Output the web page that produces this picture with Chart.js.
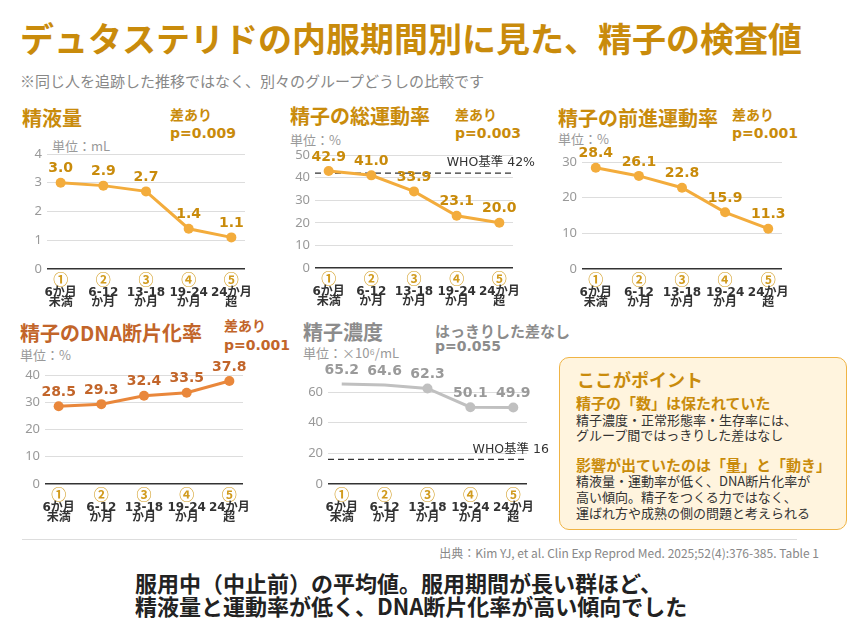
<!DOCTYPE html>
<html lang="ja">
<head>
<meta charset="utf-8">
<script src="https://cdn.jsdelivr.net/npm/chart.js@4.4.1/dist/chart.umd.min.js"></script>
<style>
  body { margin: 0; background: #fff; font-family: "Noto Sans CJK JP", sans-serif; }
  #page { position: relative; width: 868px; height: 632px; overflow: hidden; }
  .t { position: absolute; white-space: nowrap; line-height: 1; }
  .num { font-family: "DejaVu Sans", "Noto Sans CJK JP", sans-serif; font-weight: bold; }
  canvas { position: absolute; }
  #point { position: absolute; left: 559px; top: 357px; width: 286px; height: 171px;
           border: 1.5px solid #F0B445; border-radius: 10px; background: #FFF4DE; }
</style>
</head>
<body>
<div id="page">
  <div class="t" style="left:20px;top:21px;font-size:34px;font-weight:bold;color:#C98B0B;">デュタステリドの内服期間別に見た、精子の検査値</div>
  <div class="t" style="left:20px;top:73px;font-size:15px;color:#888;">※同じ人を追跡した推移ではなく、別々のグループどうしの比較です</div>

  <!-- panel headers -->
  <div class="t" style="left:22px;top:108px;font-size:20px;font-weight:bold;color:#C98B0B;">精液量</div>
  <div class="t" style="left:170px;top:107px;font-size:14px;font-weight:bold;color:#C98B0B;">差あり</div>
  <div class="t num" style="left:170px;top:126px;font-size:14px;color:#C98B0B;">p=0.009</div>
  <div class="t" style="left:52px;top:139px;font-size:13px;color:#999;">単位：mL</div>

  <div class="t" style="left:290px;top:106px;font-size:20px;font-weight:bold;color:#C98B0B;">精子の総運動率</div>
  <div class="t" style="left:455px;top:107px;font-size:14px;font-weight:bold;color:#C98B0B;">差あり</div>
  <div class="t num" style="left:455px;top:126px;font-size:14px;color:#C98B0B;">p=0.003</div>
  <div class="t" style="left:290px;top:133px;font-size:13px;color:#999;">単位：%</div>

  <div class="t" style="left:558px;top:108px;font-size:20px;font-weight:bold;color:#C98B0B;">精子の前進運動率</div>
  <div class="t" style="left:732px;top:107px;font-size:14px;font-weight:bold;color:#C98B0B;">差あり</div>
  <div class="t num" style="left:732px;top:126px;font-size:14px;color:#C98B0B;">p=0.001</div>
  <div class="t" style="left:558px;top:132px;font-size:13px;color:#999;">単位：%</div>

  <div class="t" style="left:20px;top:323px;font-size:20px;font-weight:bold;color:#C2652A;">精子のDNA断片化率</div>
  <div class="t" style="left:224px;top:318px;font-size:14px;font-weight:bold;color:#C2652A;">差あり</div>
  <div class="t num" style="left:224px;top:338px;font-size:14px;color:#C2652A;">p=0.001</div>
  <div class="t" style="left:20px;top:348px;font-size:13px;color:#999;">単位：%</div>

  <div class="t" style="left:303px;top:322px;font-size:20px;font-weight:bold;color:#8C8C8C;">精子濃度</div>
  <div class="t" style="left:435px;top:323px;font-size:15px;font-weight:bold;color:#8C8C8C;">はっきりした差なし</div>
  <div class="t num" style="left:435px;top:339px;font-size:14px;color:#8C8C8C;">p=0.055</div>
  <div class="t" style="left:303px;top:346px;font-size:13px;color:#999;">単位：×10⁶/mL</div>

  <!-- point box -->
  <div id="point"></div>
  <div class="t" style="left:577px;top:370px;font-size:18px;font-weight:bold;color:#C98B0B;">ここがポイント</div>
  <div class="t" style="left:576px;top:395px;font-size:15px;font-weight:bold;color:#C98B0B;">精子の「数」は保たれていた</div>
  <div class="t" style="left:576px;top:413px;font-size:13px;color:#333;">精子濃度・正常形態率・生存率には、</div>
  <div class="t" style="left:576px;top:428px;font-size:13px;color:#333;">グループ間ではっきりした差はなし</div>
  <div class="t" style="left:576px;top:457px;font-size:15px;font-weight:bold;color:#C98B0B;">影響が出ていたのは「量」と「動き」</div>
  <div class="t" style="left:576px;top:474px;font-size:13px;color:#333;">精液量・運動率が低く、DNA断片化率が</div>
  <div class="t" style="left:576px;top:490px;font-size:13px;color:#333;">高い傾向。精子をつくる力ではなく、</div>
  <div class="t" style="left:576px;top:506px;font-size:13px;color:#333;">運ばれ方や成熟の側の問題と考えられる</div>

  <div style="position:absolute;left:22px;top:539px;width:775px;height:1px;background:#DDD;"></div>
  <div class="t" style="right:49px;top:547px;font-size:12px;color:#888;">出典：Kim YJ, et al. Clin Exp Reprod Med. 2025;52(4):376-385. Table 1</div>
  <div class="t" style="left:135px;top:571px;font-size:22px;font-weight:bold;color:#222;">服用中（中止前）の平均値。服用期間が長い群ほど、</div>
  <div class="t" style="left:135px;top:594px;font-size:22px;font-weight:bold;color:#222;">精液量と運動率が低く、DNA断片化率が高い傾向でした</div>
</div>

<script>
// groups (x axis)
const groupNums = ['①', '②', '③', '④', '⑤'];
const groupLines = [['6か月', '未満'], ['6-12', 'か月'], ['13-18', 'か月'], ['19-24', 'か月'], ['24か月', '超']];

// series values
const semenVolume = [3.0, 2.9, 2.7, 1.4, 1.1];
const totalMotility = [42.9, 41.0, 33.9, 23.1, 20.0];
const progMotility = [28.4, 26.1, 22.8, 15.9, 11.3];
const dnaFragmentation = [28.5, 29.3, 32.4, 33.5, 37.8];
const concentration = [65.2, 64.6, 62.3, 50.1, 49.9];

// reference lines
const whoMotility = 42;
const whoConcentration = 16;

const PAD = { left: 47, top: 30, right: 40, bottom: 45 };

const panels = [
  { values: semenVolume, max: 4, step: 1, area: [47, 154, 245, 269], line: '#F3AC3C', label: '#C98B0B' },
  { values: totalMotility, max: 50, step: 10, area: [315, 155, 513, 268], line: '#F3AC3C', label: '#C98B0B',
    who: whoMotility, whoText: 'WHO基準 42%' },
  { values: progMotility, max: 30, step: 10, area: [582, 162, 782, 269], line: '#F3AC3C', label: '#C98B0B' },
  { values: dnaFragmentation, max: 40, step: 10, area: [45, 375, 243, 484], line: '#E9873B', label: '#C2652A' },
  { values: concentration, max: 60, step: 20, area: [328, 392, 527, 484], line: '#C0C0C0', label: '#9A9A9A',
    who: whoConcentration, whoText: 'WHO基準 16' },
];

const panelText = {
  id: 'panelText',
  beforeDatasetsDraw(chart, args, opts) {
    const p = opts.panel;
    if (p.who == null) return;
    const ctx = chart.ctx, area = chart.chartArea;
    const y = chart.scales.y.getPixelForValue(p.who);
    ctx.save();
    ctx.setLineDash([6, 4]);
    ctx.strokeStyle = '#333';
    ctx.lineWidth = 1.2;
    ctx.beginPath();
    ctx.moveTo(area.left, y);
    ctx.lineTo(area.right, y);
    ctx.stroke();
    ctx.setLineDash([]);
    ctx.fillStyle = '#333';
    ctx.font = '12.5px "DejaVu Sans", "Noto Sans CJK JP", sans-serif';
    ctx.textAlign = 'right';
    ctx.textBaseline = 'middle';
    ctx.fillText(p.whoText, area.right + 22, y - 10);
    ctx.restore();
  },
  afterDatasetsDraw(chart, args, opts) {
    const p = opts.panel;
    const ctx = chart.ctx, area = chart.chartArea;
    const meta = chart.getDatasetMeta(0);
    ctx.save();
    ctx.textAlign = 'center';
    ctx.textBaseline = 'middle';
    ctx.fillStyle = p.label;
    ctx.font = 'bold 14px "DejaVu Sans", sans-serif';
    meta.data.forEach((pt, i) => {
      ctx.fillText(p.values[i].toFixed(1), pt.x, pt.y - 14);
    });
    groupNums.forEach((n, i) => {
      const x = chart.scales.x.getPixelForValue(i);
      ctx.fillStyle = '#D19B1E';
      ctx.font = 'bold 15px "Noto Sans CJK JP", sans-serif';
      ctx.fillText(n, x, area.bottom + 10);
      ctx.fillStyle = '#333';
      ctx.font = 'bold 12px "DejaVu Sans", "Noto Sans CJK JP", sans-serif';
      ctx.fillText(groupLines[i][0], x, area.bottom + 23.5);
      ctx.fillText(groupLines[i][1], x, area.bottom + 34);
    });
    ctx.restore();
  }
};

const page = document.getElementById('page');

panels.forEach((p) => {
  const [x0, y0, x1, y1] = p.area;
  const canvas = document.createElement('canvas');
  const w = x1 - x0 + PAD.left + PAD.right;
  const h = y1 - y0 + PAD.top + PAD.bottom;
  canvas.width = w;
  canvas.height = h;
  canvas.style.left = (x0 - PAD.left) + 'px';
  canvas.style.top = (y0 - PAD.top) + 'px';
  canvas.style.width = w + 'px';
  canvas.style.height = h + 'px';
  page.appendChild(canvas);

  new Chart(canvas, {
    type: 'line',
    data: {
      datasets: [{
        data: p.values.map((v, i) => ({ x: i, y: v })),
        borderColor: p.line,
        borderWidth: 3,
        pointRadius: 5,
        pointBackgroundColor: p.line,
        pointBorderWidth: 0,
        tension: 0,
        clip: false,
      }],
    },
    options: {
      responsive: false,
      animation: false,
      layout: { padding: { top: PAD.top, right: PAD.right, bottom: PAD.bottom, left: 0 } },
      plugins: {
        legend: { display: false },
        tooltip: { enabled: false },
        panelText: { panel: p },
      },
      scales: {
        x: { type: 'linear', min: -0.32, max: 4.32, display: false },
        y: {
          min: 0,
          max: p.max,
          ticks: { stepSize: p.step, color: '#999', padding: 5,
                   font: { family: '"Noto Sans", sans-serif', size: 13 } },
          grid: {
            drawTicks: false,
            color: (c) => (c.tick.value === 0 ? '#333' : '#DDD'),
            lineWidth: (c) => (c.tick.value === 0 ? 1.5 : 1),
          },
          border: { display: false },
          afterFit: (s) => { s.width = PAD.left; },
        },
      },
    },
    plugins: [panelText],
  });
});
</script>
</body>
</html>
